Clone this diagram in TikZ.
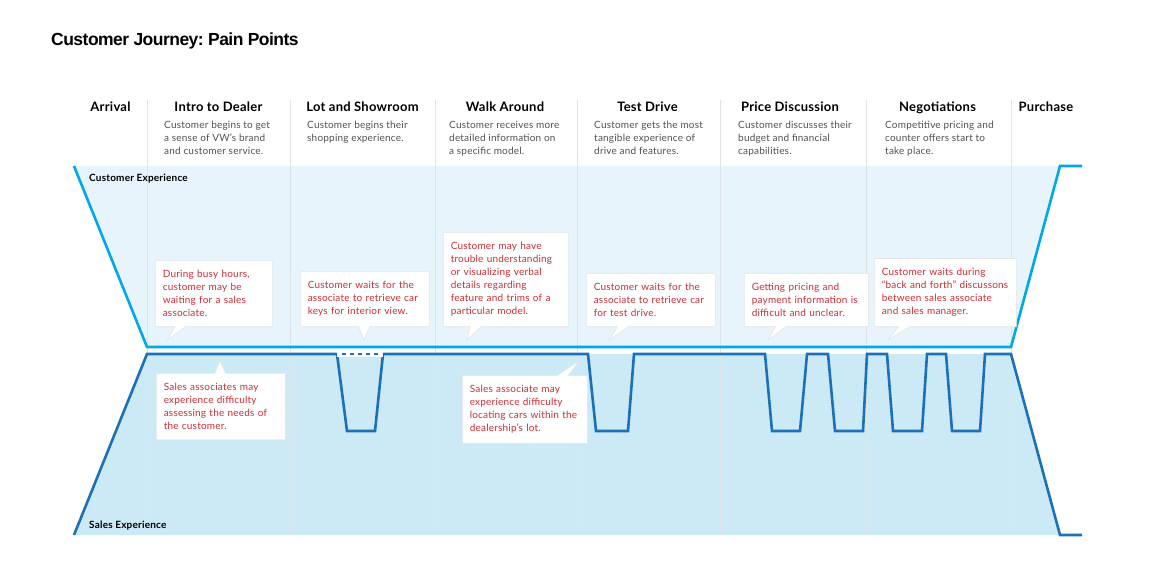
\documentclass[tikz,border=0pt]{standalone}
\usepackage{fontspec}
\setmainfont{Lato}
\newfontfamily\titlefont{Liberation Sans}
\usepackage{xcolor}
\usepackage{tikz}
\usetikzlibrary{shapes.callouts}
\usetikzlibrary{positioning}
\frenchspacing

\definecolor{custline}{HTML}{00A8E6}
\definecolor{saleline}{HTML}{1B70B8}
\definecolor{custfill}{HTML}{E8F4FB}
\definecolor{salefill}{HTML}{CCE9F6}
\definecolor{sepgray}{HTML}{DEE4E8}
\definecolor{painred}{HTML}{C92E35}
\definecolor{descgray}{HTML}{505050}
\definecolor{boxgray}{HTML}{E2E5E8}

\begin{document}
\begin{tikzpicture}
          [x=1pt, y=-1pt,
           stage/.style={anchor=base, inner sep=0pt, font=\bfseries\fontsize{13}{15}\selectfont\addfontfeature{LetterSpace=2}},
           stagedesc/.style={anchor=north west, align=left, inner sep=0pt, text=descgray,
                             font=\fontsize{10}{13}\selectfont\addfontfeature{LetterSpace=2}},
           pain/.style={rectangle callout, draw=boxgray, fill=white, line width=0.6pt, text=painred,
                        align=left, inner xsep=7.5pt, inner ysep=10pt, callout pointer width=11pt,
                        font=\fontsize{10}{13}\selectfont\addfontfeature{LetterSpace=2}},
           band/.style={anchor=base west, inner sep=0pt, font=\bfseries\fontsize{10}{11}\selectfont\addfontfeature{LetterSpace=2}},
           colsep/.style={draw=sepgray, line width=0.8pt},
           curve/.style={line width=2.6pt, line join=miter}]
          \useasboundingbox (0,0) rectangle (1155,568);

          \node (title) [anchor=west, inner sep=0pt, font=\titlefont\bfseries\fontsize{17.5}{20}\selectfont\addfontfeature{LetterSpace=-3}] at (51,41) {Customer Journey: Pain Points};

          \fill[custfill] (74,166) -- (147,347) -- (1011,347) -- (1060,166) -- cycle;
          \fill[salefill] (74,535) -- (147,354) -- (1011,354) -- (1060,535) -- cycle;

          \draw[colsep] (147,100) -- (147,535);
          \draw[colsep] (290,100) -- (290,535);
          \draw[colsep] (435,100) -- (435,535);
          \draw[colsep] (577,100) -- (577,535);
          \draw[colsep] (720,100) -- (720,535);
          \draw[colsep] (866,100) -- (866,535);
          \draw[colsep] (1011,100) -- (1011,535);

          \node (arrival) [stage] at (110.5,111) {Arrival};
          \node (intro) [stage] at (218.5,111) {Intro to Dealer};
          \node (lot) [stage] at (362.5,111) {Lot and Showroom};
          \node (walk) [stage] at (505,111) {Walk Around};
          \node (test) [stage] at (647.5,111) {Test Drive};
          \node (price) [stage] at (790,111) {Price Discussion};
          \node (nego) [stage] at (937.5,111) {Negotiations};
          \node (purchase) [stage] at (1046,111) {Purchase};

          \node (introtxt) [stagedesc] at (164,121) {Customer begins to get\\a sense of VW’s brand\\and customer service.};
          \node (lottxt) [stagedesc] at (307,121) {Customer begins their\\shopping experience.};
          \node (walktxt) [stagedesc] at (449,121) {Customer receives more\\detailed information on\\a specific model.};
          \node (testtxt) [stagedesc] at (594,121) {Customer gets the most\\tangible experience of\\drive and features.};
          \node (pricetxt) [stagedesc] at (738,121) {Customer discusses their\\budget and financial\\capabilities.};
          \node (negotxt) [stagedesc] at (885,121) {Competitive pricing and\\counter offers start to\\take place.};

          \draw[curve, custline] (74,166) -- (147,347) -- (1011,347) -- (1060,166) -- (1082,166);
          \draw[curve, saleline] (74,535) -- (147,354) -- (337,354)
                -- (347,431) -- (375,431) -- (383,354) -- (588,354)
                -- (596,431) -- (628,431) -- (634,354) -- (765,354)
                -- (772,431) -- (800,431) -- (807,354) -- (828,354)
                -- (835,431) -- (863,431) -- (867,354) -- (887,354)
                -- (893,431) -- (922,431) -- (927,354) -- (946,354)
                -- (952,431) -- (980,431) -- (985,354) -- (1011,354)
                -- (1060,535) -- (1082,535);
          \fill[white] (337,351) rectangle (383,357);
          \draw[curve, saleline, line width=2.4pt, dash pattern=on 4pt off 4pt] (342,354) -- (382,354);

          \node (cexp) [band] at (89,181.5) {Customer Experience};
          \node (sexp) [band] at (89,528.5) {Sales Experience};

          \coordinate (t1) at (167,340);
          \coordinate (t2) at (364,340);
          \coordinate (t3) at (467,340);
          \coordinate (t4) at (609,340);
          \coordinate (t5) at (768,340);
          \coordinate (t6) at (888,340);
          \coordinate (t7) at (220,361);
          \coordinate (t8) at (579,361);

          \node (busy) [pain, anchor=south west, text width=102pt, callout absolute pointer={(t1)}] at (155,327)
                {During busy hours,\\customer may be\\waiting for a sales\\associate.};
          \node (keys) [pain, anchor=south west, text width=114pt, callout absolute pointer={(t2)}] at (300,327)
                {Customer waits for the\\associate to retrieve car\\keys for interior view.};
          \node (trims) [pain, anchor=south west, text width=110pt, callout absolute pointer={(t3)}] at (443,327)
                {Customer may have\\trouble understanding\\or visualizing verbal\\details regarding\\feature and trims of a\\particular model.};
          \node (drive) [pain, anchor=south west, text width=114pt, callout absolute pointer={(t4)}] at (586,327)
                {Customer waits for the\\associate to retrieve car\\for test drive.};
          \node (pricing) [pain, anchor=south west, text width=109pt, callout absolute pointer={(t5)}] at (744,327)
                {Getting pricing and\\payment information is\\difficult and unclear.};
          \node (waits) [pain, anchor=south west, text width=127pt, callout absolute pointer={(t6)}] at (874,327)
                {Customer waits during\\“back and forth” discussons\\between sales associate\\and sales manager.};
          \node (needs) [pain, anchor=north west, text width=114pt, callout absolute pointer={(t7)}] at (156,373)
                {Sales associates may\\experience difficulty\\assessing the needs of\\the customer.};
          \node (cars) [pain, anchor=north west, text width=110pt, callout absolute pointer={(t8)}] at (462,375)
                {Sales associate may\\experience difficulty\\locating cars within the\\dealership’s lot.};

        \end{tikzpicture}
\end{document}
